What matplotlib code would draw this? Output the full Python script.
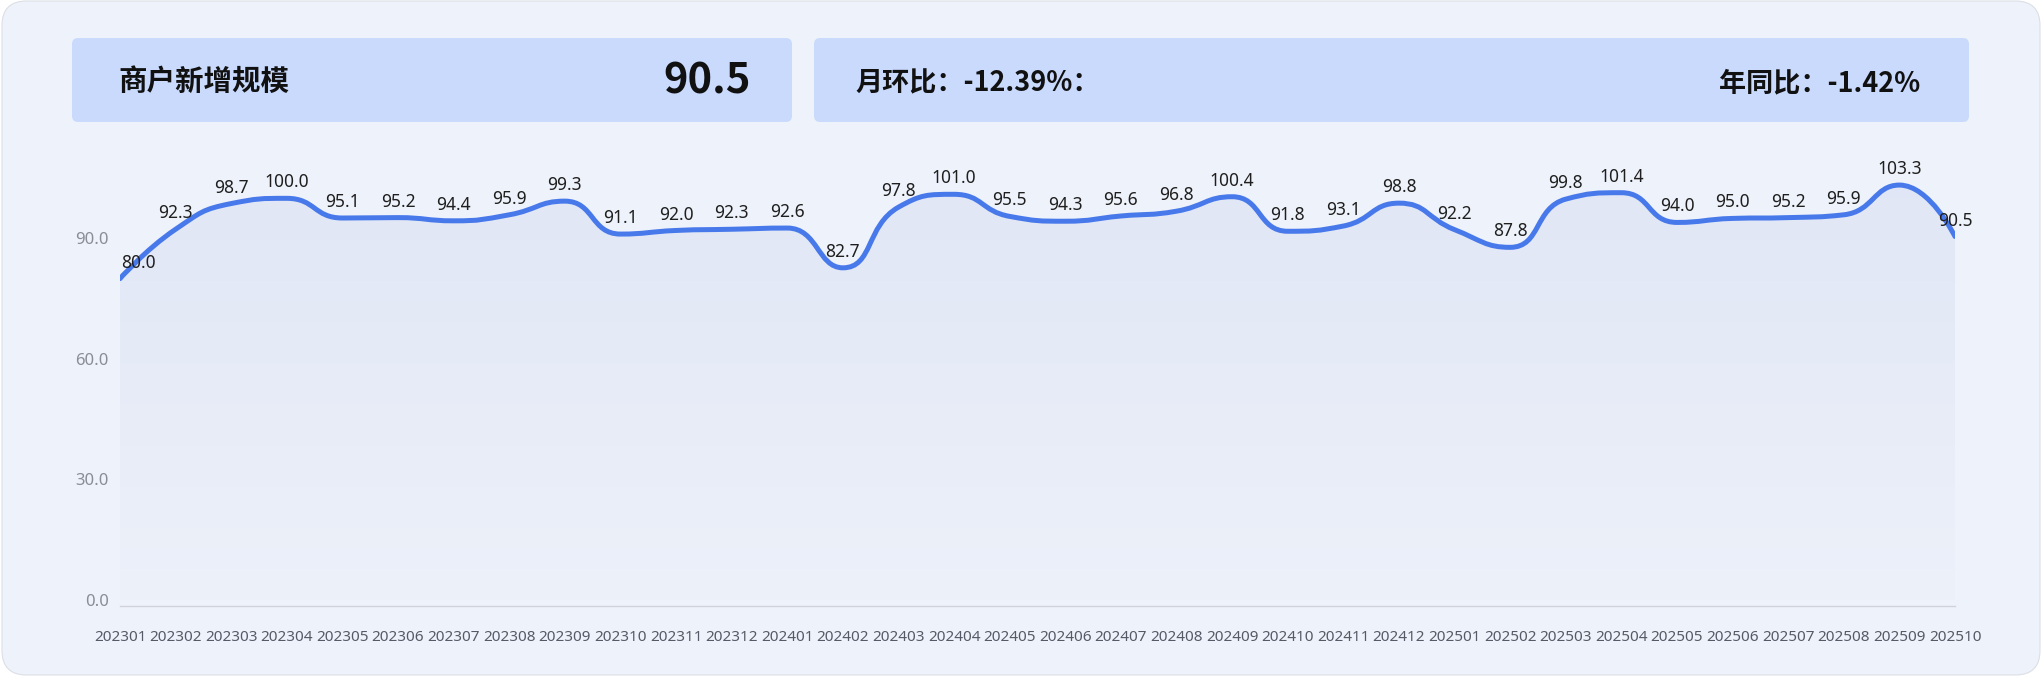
import numpy as np
import matplotlib
matplotlib.use("Agg")
import matplotlib.pyplot as plt
from matplotlib.path import Path
from matplotlib.patches import FancyBboxPatch, PathPatch

# ---------------- data ----------------
months = ["202301", "202302", "202303", "202304", "202305", "202306", "202307", "202308",
          "202309", "202310", "202311", "202312", "202401", "202402", "202403", "202404",
          "202405", "202406", "202407", "202408", "202409", "202410", "202411", "202412",
          "202501", "202502", "202503", "202504", "202505", "202506", "202507", "202508",
          "202509", "202510"]
values = [80.0, 92.3, 98.7, 100.0, 95.1, 95.2, 94.4, 95.9,
          99.3, 91.1, 92.0, 92.3, 92.6, 82.7, 97.8, 101.0,
          95.5, 94.3, 95.6, 96.8, 100.4, 91.8, 93.1, 98.8,
          92.2, 87.8, 99.8, 101.4, 94.0, 95.0, 95.2, 95.9,
          103.3, 90.5]
y_ticks = [0, 30, 60, 90]
title_text = "商户新增规模"
current_value = "90.5"
mom_text = "月环比：-12.39%："
yoy_text = "年同比：-1.42%"

# ---------------- figure ----------------
W, H = 2042, 692
DPI = 100
fig = plt.figure(figsize=(W / DPI, H / DPI), dpi=DPI, facecolor="white")

def fx(px):
    return px / W

def fy(py_top):
    return 1 - py_top / H

CJK = ["Noto Sans CJK SC", "DejaVu Sans"]
NUM = ["Noto Sans", "DejaVu Sans"]

# card background
card = FancyBboxPatch((fx(2), fy(675)), fx(2038), (675 - 1) / H,
                      boxstyle="round,pad=0,rounding_size=0.012",
                      transform=fig.transFigure, facecolor="#eef2fa",
                      edgecolor="#dcdfe6", linewidth=0.8, zorder=-3,
                      mutation_aspect=W / H)
fig.patches.append(card)

# header boxes
for x0, x1 in [(72, 792), (814, 1969)]:
    box = FancyBboxPatch((fx(x0), fy(122)), fx(x1 - x0), (122 - 38) / H,
                         boxstyle="round,pad=0,rounding_size=0.003",
                         transform=fig.transFigure, facecolor="#c9dafd",
                         edgecolor="none", zorder=-2, mutation_aspect=W / H)
    fig.patches.append(box)

fig.text(fx(118), fy(82), title_text, fontsize=20.5, fontweight="bold",
         family=CJK, color="#111111", ha="left", va="center")
fig.text(fx(751), fy(82), current_value, fontsize=30, fontweight="bold",
         family=CJK, color="#111111", ha="right", va="center")
fig.text(fx(855), fy(83), mom_text, fontsize=19.5, fontweight="bold",
         family=CJK, color="#111111", ha="left", va="center")
fig.text(fx(1920), fy(83), yoy_text, fontsize=19.5, fontweight="bold",
         family=CJK, color="#111111", ha="right", va="center")

# ---------------- axes ----------------
ax_left, ax_right, ax_top, ax_bottom = 120, 1955, 118, 606
ax = fig.add_axes([fx(ax_left), fy(ax_bottom), fx(ax_right - ax_left), (ax_bottom - ax_top) / H])
ax.set_zorder(1)
ax.patch.set_visible(False)
n = len(values)
x = np.arange(n, dtype=float)
y = np.array(values, dtype=float)
ymin, ymax = -1.5, 120
ax.set_xlim(0, n - 1)
ax.set_ylim(ymin, ymax)

# pixel scales for the smoothing computation
sx = (ax_right - ax_left) / (n - 1)
sy = (ax_bottom - ax_top) / (ymax - ymin)
px = x * sx
py = -y * sy

# ECharts-like smooth curve
smooth = 0.5
verts = [(px[0], py[0])]
codes = [Path.MOVETO]
cp0x, cp0y = px[0], py[0]
for k in range(1, n):
    X, Y = px[k], py[k]
    pX, pY = px[k - 1], py[k - 1]
    if k >= n - 1:
        cp1x, cp1y = X, Y
        ncx, ncy = X, Y
    else:
        nX, nY = px[k + 1], py[k + 1]
        vx, vy = nX - pX, nY - pY
        lp = np.hypot(X - pX, Y - pY)
        ln = np.hypot(nX - X, nY - Y)
        r = ln / (ln + lp)
        ncx = X + vx * smooth * r
        ncy = Y + vy * smooth * r
        ncx = min(ncx, max(nX, X)); ncy = min(ncy, max(nY, Y))
        ncx = max(ncx, min(nX, X)); ncy = max(ncy, min(nY, Y))
        vx, vy = ncx - X, ncy - Y
        cp1x = X - vx * lp / ln
        cp1y = Y - vy * lp / ln
        cp1x = min(cp1x, max(pX, X)); cp1y = min(cp1y, max(pY, Y))
        cp1x = max(cp1x, min(pX, X)); cp1y = max(cp1y, min(pY, Y))
        vx, vy = X - cp1x, Y - cp1y
        ncx = X + vx * ln / lp
        ncy = Y + vy * ln / lp
    verts += [(cp0x, cp0y), (cp1x, cp1y), (X, Y)]
    codes += [Path.CURVE4] * 3
    cp0x, cp0y = ncx, ncy

verts = np.array(verts)
data_verts = np.column_stack([verts[:, 0] / sx, -verts[:, 1] / sy])
line_path = Path(data_verts, codes)

# area with gradient
area_verts = np.vstack([data_verts, [[n - 1, 0], [0, 0], data_verts[0]]])
area_codes = list(codes) + [Path.LINETO, Path.LINETO, Path.CLOSEPOLY]
area_path = Path(area_verts, area_codes)
clip_patch = PathPatch(area_path, facecolor="none", edgecolor="none", transform=ax.transData)
ax.add_patch(clip_patch)
grad = np.zeros((256, 2, 4))
base = matplotlib.colors.to_rgb("#5470c6")
grad[..., 0], grad[..., 1], grad[..., 2] = base
alphas = np.linspace(0.09, 0.01, 256)
grad[..., 3] = alphas[:, None]
img = ax.imshow(grad, extent=[0, n - 1, 0, 105], origin="upper", aspect="auto",
                interpolation="bilinear", zorder=1)
img.set_clip_path(clip_patch)
ax.set_xlim(0, n - 1)
ax.set_ylim(ymin, ymax)

ax.add_patch(PathPatch(line_path, facecolor="none", edgecolor="#4879eb",
                       linewidth=3.6, capstyle="round", joinstyle="round", zorder=3))

# data labels
for i, (xi, yi) in enumerate(zip(x, y)):
    dx = 13 if i == 0 else 0
    ax.annotate(f"{yi:.1f}", (xi, yi), xytext=(dx, 5), textcoords="offset points",
                ha="center", va="bottom", fontsize=12.5, family=NUM, color="#1f1f1f",
                zorder=4, annotation_clip=False)

# axes styling
for s in ["top", "right", "left"]:
    ax.spines[s].set_visible(False)
ax.spines["bottom"].set_color("#d0d3da")
ax.spines["bottom"].set_linewidth(1.0)
ax.set_yticks(y_ticks)
ax.set_yticklabels([f"{t:.1f}" for t in y_ticks], family=NUM, fontsize=12, color="#8a8d96")
ax.set_xticks(x)
ax.set_xticklabels(months, family=NUM, fontsize=11, color="#555a66")
ax.tick_params(axis="y", length=0, pad=8)
ax.tick_params(axis="x", length=0, pad=17)

fig.savefig("out.png", dpi=DPI, facecolor="white")
